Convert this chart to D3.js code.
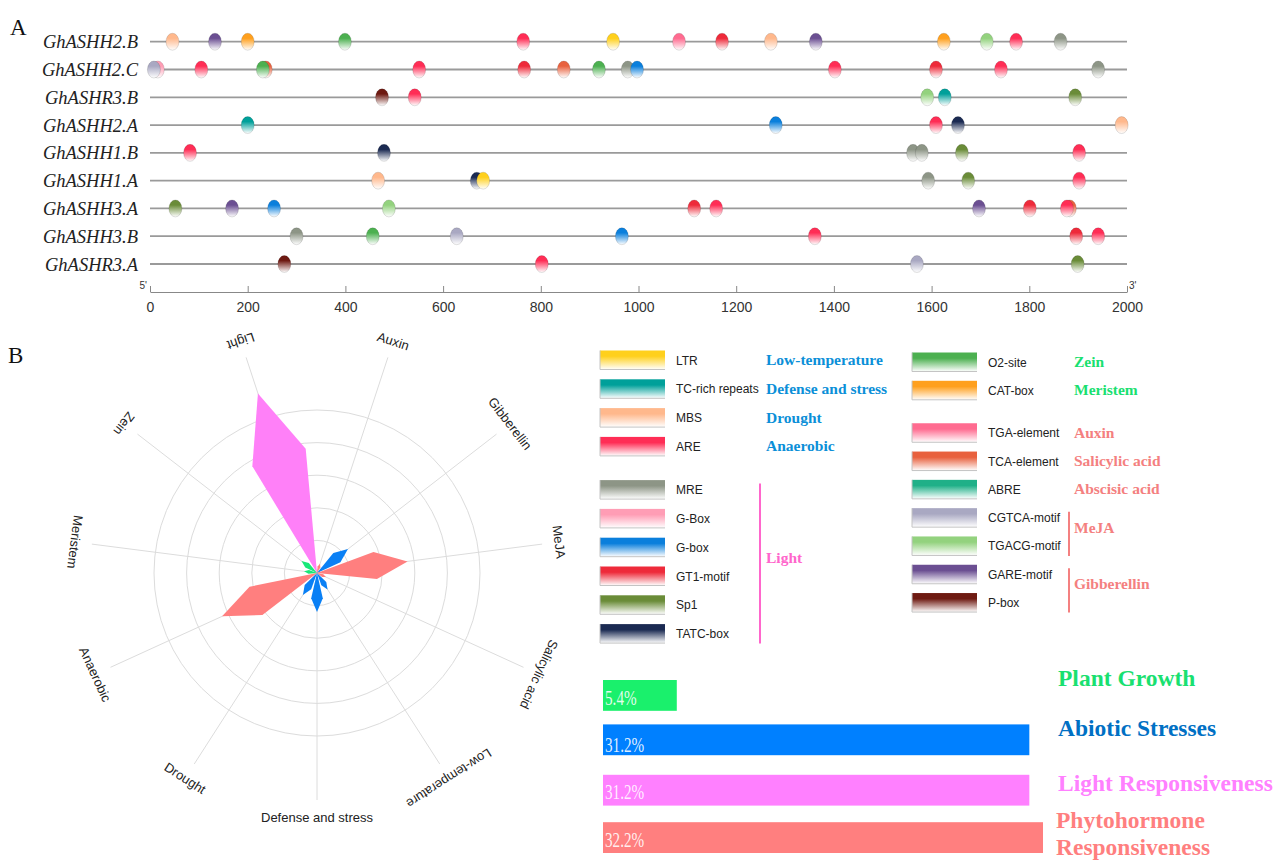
<!DOCTYPE html>
<html>
<head>
<meta charset="utf-8">
<script src="https://cdn.jsdelivr.net/npm/d3@7"></script>
<style>
  body { margin: 0; background: #fff; }
  svg { display: block; }
</style>
</head>
<body>
<svg id="fig" width="1285" height="861"></svg>
<script>
// ---------- cis-element types ----------
const elementNames = ["LTR", "TC-rich repeats", "MBS", "ARE", "MRE", "G-Box", "G-box", "GT1-motif", "Sp1", "TATC-box",
  "O2-site", "CAT-box", "TGA-element", "TCA-element", "ABRE", "CGTCA-motif", "TGACG-motif", "GARE-motif", "P-box"];
const elementColors = ["#ffd01c", "#00a09a", "#ffb88c", "#ff2d55", "#8d9586", "#ff9db5", "#0a7fdc", "#ee2a3a", "#6a8c38", "#1b2a52",
  "#4cb050", "#ffa01e", "#ff6b90", "#e8613e", "#1fb088", "#a9a8c2", "#93d27e", "#6b4f92", "#6e1a12"];

// ---------- panel A: promoter sites (position in bp, element) ----------
const genes = ["GhASHH2.B", "GhASHH2.C", "GhASHR3.B", "GhASHH2.A", "GhASHH1.B", "GhASHH1.A", "GhASHH3.A", "GhASHH3.B", "GhASHR3.A"];
const sitesGhASHH2B = [[46, "MBS"], [133, "GARE-motif"], [200, "CAT-box"], [399, "O2-site"], [764, "ARE"], [948, "LTR"],
  [1083, "TGA-element"], [1171, "GT1-motif"], [1271, "MBS"], [1363, "GARE-motif"], [1625, "CAT-box"], [1713, "TGACG-motif"],
  [1773, "ARE"], [1864, "MRE"]];
const sitesGhASHH2C = [[16, "G-Box"], [8, "CGTCA-motif"], [105, "ARE"], [237, "TCA-element"], [231, "O2-site"], [551, "ARE"],
  [766, "GT1-motif"], [847, "TCA-element"], [919, "O2-site"], [978, "MRE"], [997, "G-box"], [1402, "ARE"], [1609, "GT1-motif"],
  [1742, "ARE"], [1941, "MRE"]];
const sitesGhASHR3B = [[475, "P-box"], [542, "ARE"], [1591, "TGACG-motif"], [1627, "TC-rich repeats"], [1894, "Sp1"]];
const sitesGhASHH2A = [[200, "TC-rich repeats"], [1281, "G-box"], [1609, "ARE"], [1654, "TATC-box"], [1989, "MBS"]];
const sitesGhASHH1B = [[82, "ARE"], [479, "TATC-box"], [1562, "MRE"], [1580, "MRE"], [1662, "Sp1"], [1902, "ARE"]];
const sitesGhASHH1A = [[467, "MBS"], [669, "TATC-box"], [682, "LTR"], [1593, "MRE"], [1675, "Sp1"], [1902, "ARE"]];
const sitesGhASHH3A = [[52, "Sp1"], [168, "GARE-motif"], [254, "G-box"], [489, "TGACG-motif"], [1114, "GT1-motif"], [1159, "ARE"],
  [1697, "GARE-motif"], [1801, "GT1-motif"], [1883, "TCA-element"], [1877, "ARE"]];
const sitesGhASHH3B = [[300, "MRE"], [456, "O2-site"], [628, "CGTCA-motif"], [966, "G-box"], [1361, "ARE"], [1896, "GT1-motif"], [1941, "ARE"]];
const sitesGhASHR3A = [[275, "P-box"], [802, "ARE"], [1570, "CGTCA-motif"], [1899, "Sp1"]];
const geneSites = [sitesGhASHH2B, sitesGhASHH2C, sitesGhASHR3B, sitesGhASHH2A, sitesGhASHH1B, sitesGhASHH1A, sitesGhASHH3A, sitesGhASHH3B, sitesGhASHR3A];
const positionTicks = [0, 200, 400, 600, 800, 1000, 1200, 1400, 1600, 1800, 2000];

// ---------- panel B: radar (element counts per function) ----------
const radarAxes = ["Light", "Auxin", "Gibberellin", "MeJA", "Salicylic acid", "Low-temperature", "Defense and stress",
  "Drought", "Anaerobic", "Meristem", "Zein"];
const radarValues = [29, 1.5, 6, 14, 1.5, 3, 6, 4, 16, 2, 3];
const radarRings = [5, 10, 15, 20, 25];
const petalColors = ["#ff80f8", "#ff7f7f", "#0a80f5", "#ff7f7f", "#ff7f7f", "#0a80f5", "#0a80f5", "#0a80f5", "#ff7f7f", "#18e878", "#18e878"];

// ---------- legend ----------
const legendLeftItems = ["LTR", "TC-rich repeats", "MBS", "ARE", "MRE", "G-Box", "G-box", "GT1-motif", "Sp1", "TATC-box"];
const legendLeftRows = [0, 1, 2, 3, 4.5, 5.5, 6.5, 7.5, 8.5, 9.5];
const legendRightItems = ["O2-site", "CAT-box", "TGA-element", "TCA-element", "ABRE", "CGTCA-motif", "TGACG-motif", "GARE-motif", "P-box"];
const legendRightRows = [0, 1, 2.5, 3.5, 4.5, 5.5, 6.5, 7.5, 8.5];
// function labels: [text, first row, last row, bracket]
const legendLeftFunctions = [["Low-temperature", 0, 0, false], ["Defense and stress", 1, 1, false], ["Drought", 2, 2, false],
  ["Anaerobic", 3, 3, false], ["Light", 4.5, 9.5, true]];
const legendRightFunctions = [["Zein", 0, 0, false], ["Meristem", 1, 1, false], ["Auxin", 2.5, 2.5, false],
  ["Salicylic acid", 3.5, 3.5, false], ["Abscisic acid", 4.5, 4.5, false], ["MeJA", 5.5, 6.5, true], ["Gibberellin", 7.5, 8.5, true]];
const functionColors = {
  "Low-temperature": "#0b8fd8", "Defense and stress": "#0b8fd8", "Drought": "#0b8fd8", "Anaerobic": "#0b8fd8",
  "Light": "#ff66cc", "Zein": "#19e070", "Meristem": "#19e070",
  "Auxin": "#f48080", "Salicylic acid": "#f48080", "Abscisic acid": "#f48080", "MeJA": "#f48080", "Gibberellin": "#f48080"
};

// ---------- summary bars ----------
const barCategories = ["Plant Growth", "Abiotic Stresses", "Light Responsiveness", "Phytohormone Responsiveness"];
const barValues = [5.4, 31.2, 31.2, 32.2];
const barColors = ["#1af06c", "#0080ff", "#ff80ff", "#ff7f7f"];
const barTitleColors = ["#19e070", "#0070c4", "#ff80ff", "#ff7f7f"];

// =====================================================================
const svg = d3.select("#fig");
svg.append("rect").attr("width", 1285).attr("height", 861).attr("fill", "#fff");
const defs = svg.append("defs");
const elemIndex = new Map(elementNames.map((n, i) => [n, i]));

elementNames.forEach((n, i) => {
  const g = defs.append("linearGradient").attr("id", "grad" + i)
    .attr("x1", 0).attr("y1", 0).attr("x2", 0).attr("y2", 1);
  g.append("stop").attr("offset", "0%").attr("stop-color", elementColors[i]);
  g.append("stop").attr("offset", "30%").attr("stop-color", elementColors[i]);
  g.append("stop").attr("offset", "100%").attr("stop-color", "#ffffff");
});

const serif = "'Liberation Serif', 'Times New Roman', serif";
const sans = "'Liberation Sans', Arial, sans-serif";

// ---------- panel A ----------
svg.append("text").attr("x", 10).attr("y", 35).text("A")
  .attr("font-family", serif).attr("font-size", 23).attr("fill", "#111");

const xPos = d3.scaleLinear().domain([0, 2000]).range([150, 1127]);
const yGene = d3.scalePoint().domain(genes).range([41.7, 264]);

const panelA = svg.append("g");
genes.forEach((gname, gi) => {
  const y = yGene(gname);
  panelA.append("line").attr("x1", xPos(0)).attr("x2", xPos(2000)).attr("y1", y).attr("y2", y)
    .attr("stroke", "#9a9a9a").attr("stroke-width", 1.8);
  panelA.append("text").attr("x", 138).attr("y", y + 6.5).attr("text-anchor", "end")
    .attr("font-family", serif).attr("font-style", "italic").attr("font-size", 18.5).attr("fill", "#222")
    .text(gname);
  panelA.selectAll(null).data(geneSites[gi]).enter().append("ellipse")
    .attr("cx", d => xPos(d[0])).attr("cy", y).attr("rx", 6.5).attr("ry", 8.5)
    .attr("fill", d => `url(#grad${elemIndex.get(d[1])})`)
    .attr("stroke", "rgba(0,0,0,0.18)").attr("stroke-width", 0.7);
});

const axisG = svg.append("g").attr("transform", "translate(0,292)")
  .call(d3.axisBottom(xPos).tickValues(positionTicks).tickFormat(d3.format("d"))
    .tickSizeInner(-6).tickSizeOuter(0).tickPadding(10));
axisG.select(".domain").attr("stroke", "#888").attr("stroke-width", 1.2);
axisG.selectAll(".tick line").attr("stroke", "#888");
axisG.selectAll(".tick text").attr("font-family", "'Liberation Sans Narrow', 'Liberation Sans', Arial, sans-serif")
  .attr("font-size", 14).attr("fill", "#333");
svg.append("text").attr("x", xPos(0) - 3).attr("y", 289).attr("text-anchor", "end")
  .attr("font-family", sans).attr("font-size", 10).attr("fill", "#333").text("5'");
svg.append("text").attr("x", xPos(2000) + 2).attr("y", 289)
  .attr("font-family", sans).attr("font-size", 10).attr("fill", "#333").text("3'");

// ---------- panel B: radar ----------
svg.append("text").attr("x", 8).attr("y", 363).text("B")
  .attr("font-family", serif).attr("font-size", 23).attr("fill", "#111");

const cx = 317, cy = 573;
const rScale = d3.scaleLinear().domain([0, 25]).range([0, 163]);
const angleStep = 360 / radarAxes.length;
// "Defense and stress" points straight down; the upper half of the fan is opened slightly wider
const upperSpread = 1.12;
const axisAngle = i => {
  const a = ((i - 6) * angleStep + 180 + 360) % 360;
  if (a > 90 && a < 270) return a;
  const rad = a * Math.PI / 180;
  return (Math.atan2(upperSpread * Math.sin(rad), Math.cos(rad)) * 180 / Math.PI + 360) % 360;
};
const polar = (deg, r) => [r * Math.sin(deg * Math.PI / 180), -r * Math.cos(deg * Math.PI / 180)];

const radar = svg.append("g").attr("transform", `translate(${cx},${cy})`);
radar.selectAll(".ring").data(radarRings).enter().append("circle")
  .attr("r", d => rScale(d)).attr("fill", "none").attr("stroke", "#dcdcdc").attr("stroke-width", 1);
radar.selectAll(".spoke").data(radarAxes).enter().append("line")
  .attr("x1", 0).attr("y1", 0)
  .attr("x2", (d, i) => polar(axisAngle(i), 227)[0]).attr("y2", (d, i) => polar(axisAngle(i), 227)[1])
  .attr("stroke", "#dcdcdc").attr("stroke-width", 1);

const petal = d3.line();
radar.selectAll(".petal").data(radarValues).enter().append("path")
  .attr("d", (v, i) => {
    const a = axisAngle(i), r = rScale(v);
    return petal([[0, 0], polar(a - 13, r * 0.66), polar(a, r), polar(a + 13, r * 0.66)]) + "Z";
  })
  .attr("fill", (v, i) => petalColors[i]);

radar.selectAll(".alabel").data(radarAxes).enter().append("text")
  .attr("transform", (d, i) => {
    const a = axisAngle(i), p = polar(a, 244);
    const rot = a < 180 ? a : a - 180;
    return `translate(${p[0]},${p[1]}) rotate(${rot})`;
  })
  .attr("text-anchor", "middle").attr("dominant-baseline", "central")
  .attr("font-family", sans).attr("font-size", 13).attr("fill", "#222")
  .text(d => d);

// ---------- legend ----------
function drawLegend(items, rows, functions, opts) {
  const g = svg.append("g");
  const rowY = r => opts.y0 + r * opts.step;
  items.forEach((name, i) => {
    const y = rowY(rows[i]);
    const idx = elemIndex.get(name);
    g.append("rect").attr("x", opts.boxX).attr("y", y - 9.5).attr("width", 65).attr("height", 19)
      .attr("fill", `url(#grad${idx})`);
    g.append("path").attr("d", `M${opts.boxX},${y - 9.5}V${y + 9.5}H${opts.boxX + 65}`)
      .attr("fill", "none").attr("stroke", "#c4c4c4").attr("stroke-width", 1);
    g.append("text").attr("x", opts.boxX + 76).attr("y", y + 4.5)
      .attr("font-family", sans).attr("font-size", 12).attr("fill", "#222").text(name);
  });
  functions.forEach(([txt, r0, r1, bracket]) => {
    const color = functionColors[txt];
    if (bracket) {
      g.append("line").attr("x1", opts.lineX).attr("x2", opts.lineX)
        .attr("y1", rowY(r0) - 6).attr("y2", rowY(r1) + 10)
        .attr("stroke", color).attr("stroke-width", 2);
    }
    const ym = bracket ? (rowY(r0) + rowY(r1)) / 2 - 4 : rowY(r0);
    g.append("text").attr("x", opts.labelX).attr("y", ym + 5)
      .attr("font-family", serif).attr("font-weight", "bold").attr("font-size", 15.5)
      .attr("fill", color).text(txt);
  });
}
drawLegend(legendLeftItems, legendLeftRows, legendLeftFunctions, { y0: 360, step: 28.8, boxX: 600, lineX: 760, labelX: 766 });
drawLegend(legendRightItems, legendRightRows, legendRightFunctions, { y0: 362, step: 28.3, boxX: 912, lineX: 1069, labelX: 1074 });

// ---------- summary bars ----------
const xBar = d3.scaleLinear().domain([0, 32.2]).range([0, 440]);
const yBar = d3.scaleBand().domain(barCategories).range([680, 853]).paddingInner(0.35).paddingOuter(0);
const bars = svg.append("g").attr("transform", "translate(603,0)");
bars.selectAll("rect").data(barValues).enter().append("rect")
  .attr("x", 0).attr("y", (v, i) => yBar(barCategories[i]) - (i === 1 ? 3 : 0))
  .attr("width", v => xBar(v)).attr("height", yBar.bandwidth())
  .attr("fill", (v, i) => barColors[i]);
bars.selectAll(".pct").data(barValues).enter().append("text")
  .attr("transform", (v, i) => `translate(2,${yBar(barCategories[i]) + yBar.bandwidth() * 0.8}) scale(0.8,1.08)`)
  .attr("font-family", serif).attr("font-size", 19).attr("fill", "#ffffff").attr("fill-opacity", 0.88)
  .text(v => v.toFixed(1) + "%");

// category titles to the right of the bars (baseline offsets from each band's centre)
const titles = svg.append("g");
const titleDy = [-9, -7, 1, -10];
barCategories.forEach((c, i) => {
  const yc = yBar(c) + yBar.bandwidth() / 2 + titleDy[i];
  const t = titles.append("text").attr("x", 1058).attr("y", yc)
    .attr("font-family", serif).attr("font-weight", "bold").attr("font-size", 23.5)
    .attr("fill", barTitleColors[i]);
  const words = c.split(" ");
  if (c.length > 22) {
    t.append("tspan").attr("x", 1056).text(words[0]);
    t.append("tspan").attr("x", 1056).attr("dy", 27).text(words.slice(1).join(" "));
  } else {
    t.text(c);
  }
});
</script>
</body>
</html>
